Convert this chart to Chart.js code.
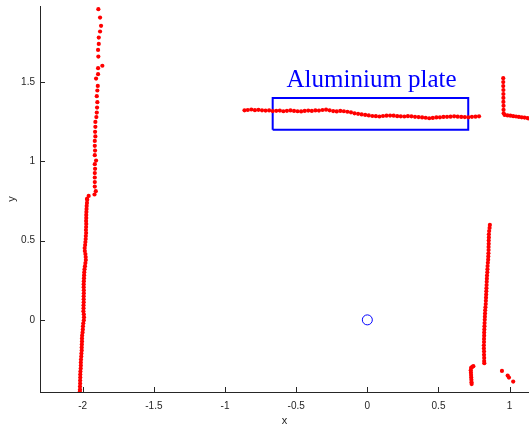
<!DOCTYPE html>
<html lang="en">
<head>
  <meta charset="UTF-8">
  <title>Aluminium plate scan</title>
  <script src="https://cdn.jsdelivr.net/npm/chart.js"></script>
  <style>
    html, body { margin: 0; padding: 0; background: #fff; }
    #wrap { width: 529px; height: 426px; }
  </style>
</head>
<body>
  <div id="wrap"><canvas id="scan"></canvas></div>
  <script>
    // scan points [x, y] per segment
    const leftWallUpper = [[-1.890,1.960],[-1.878,1.907],[-1.871,1.855],[-1.878,1.819],[-1.887,1.781],[-1.887,1.741],[-1.892,1.703],[-1.890,1.661],[-1.862,1.603],[-1.892,1.588],[-1.892,1.550],[-1.906,1.522],[-1.894,1.476],[-1.897,1.447],[-1.901,1.411],[-1.897,1.373],[-1.899,1.339],[-1.901,1.308],[-1.904,1.279],[-1.911,1.249],[-1.911,1.218],[-1.913,1.186],[-1.911,1.157],[-1.915,1.129],[-1.915,1.098],[-1.913,1.068],[-1.915,1.039],[-1.906,1.005],[-1.915,0.982],[-1.913,0.953],[-1.915,0.926],[-1.915,0.898],[-1.915,0.869],[-1.915,0.841],[-1.908,0.812],[-1.917,0.791],[-1.958,0.782],[-1.970,0.763]];
    const leftWallLower = [[-1.968,0.757],[-1.970,0.738],[-1.972,0.719],[-1.973,0.700],[-1.974,0.681],[-1.975,0.662],[-1.975,0.643],[-1.976,0.624],[-1.975,0.605],[-1.976,0.586],[-1.977,0.567],[-1.976,0.548],[-1.978,0.529],[-1.979,0.510],[-1.981,0.491],[-1.983,0.472],[-1.986,0.453],[-1.985,0.434],[-1.981,0.415],[-1.979,0.396],[-1.978,0.377],[-1.981,0.358],[-1.984,0.339],[-1.987,0.320],[-1.989,0.301],[-1.990,0.282],[-1.991,0.263],[-1.992,0.244],[-1.993,0.225],[-1.993,0.206],[-1.992,0.187],[-1.992,0.168],[-1.993,0.149],[-1.993,0.130],[-1.993,0.111],[-1.994,0.092],[-1.994,0.073],[-1.995,0.054],[-1.992,0.035],[-1.991,0.016],[-1.992,-0.003],[-1.996,-0.022],[-1.998,-0.041],[-1.999,-0.060],[-2.001,-0.079],[-2.004,-0.098],[-2.005,-0.117],[-2.005,-0.136],[-2.006,-0.155],[-2.007,-0.174],[-2.007,-0.193],[-2.009,-0.212],[-2.010,-0.231],[-2.012,-0.250],[-2.013,-0.269],[-2.013,-0.288],[-2.014,-0.307],[-2.016,-0.326],[-2.017,-0.345],[-2.017,-0.364],[-2.018,-0.383],[-2.018,-0.402],[-2.019,-0.421],[-2.019,-0.440],[-2.020,-0.452]];
    const plate = [[-0.863,1.322],[-0.840,1.324],[-0.815,1.327],[-0.790,1.323],[-0.765,1.325],[-0.740,1.322],[-0.715,1.320],[-0.690,1.321],[-0.665,1.317],[-0.640,1.319],[-0.615,1.320],[-0.590,1.316],[-0.565,1.319],[-0.540,1.321],[-0.515,1.318],[-0.490,1.316],[-0.465,1.315],[-0.440,1.318],[-0.415,1.320],[-0.390,1.318],[-0.365,1.321],[-0.340,1.320],[-0.315,1.324],[-0.290,1.326],[-0.265,1.322],[-0.240,1.317],[-0.215,1.315],[-0.190,1.318],[-0.165,1.316],[-0.140,1.313],[-0.115,1.309],[-0.090,1.303],[-0.065,1.300],[-0.040,1.296],[-0.015,1.293],[0.010,1.290],[0.035,1.286],[0.060,1.285],[0.085,1.283],[0.110,1.286],[0.135,1.288],[0.160,1.289],[0.185,1.288],[0.210,1.285],[0.235,1.284],[0.260,1.283],[0.285,1.285],[0.310,1.284],[0.335,1.281],[0.360,1.279],[0.385,1.277],[0.410,1.275],[0.435,1.272],[0.460,1.274],[0.485,1.277],[0.510,1.278],[0.535,1.280],[0.560,1.281],[0.585,1.282],[0.610,1.284],[0.635,1.282],[0.660,1.280],[0.685,1.279],[0.710,1.278],[0.735,1.281],[0.760,1.282],[0.785,1.284]];
    const cornerRight = [[0.955,1.525],[0.955,1.500],[0.955,1.475],[0.956,1.450],[0.956,1.425],[0.956,1.400],[0.956,1.375],[0.957,1.350],[0.957,1.325],[0.958,1.303],[0.965,1.293],[0.985,1.290],[1.005,1.288],[1.025,1.285],[1.045,1.283],[1.065,1.280],[1.085,1.278],[1.105,1.276],[1.125,1.273],[1.140,1.270]];
    const rightWall = [[0.861,0.599],[0.859,0.580],[0.856,0.560],[0.854,0.540],[0.854,0.520],[0.853,0.500],[0.853,0.480],[0.852,0.460],[0.852,0.440],[0.851,0.420],[0.850,0.400],[0.849,0.380],[0.847,0.360],[0.845,0.340],[0.844,0.320],[0.843,0.300],[0.841,0.280],[0.840,0.260],[0.839,0.240],[0.838,0.220],[0.837,0.200],[0.836,0.180],[0.835,0.160],[0.834,0.140],[0.833,0.120],[0.832,0.100],[0.830,0.080],[0.828,0.060],[0.827,0.040],[0.826,0.020],[0.825,0.000],[0.824,-0.020],[0.823,-0.040],[0.822,-0.060],[0.821,-0.080],[0.821,-0.100],[0.820,-0.120],[0.820,-0.140],[0.819,-0.160],[0.819,-0.180],[0.820,-0.200],[0.820,-0.220],[0.821,-0.240],[0.821,-0.260],[0.822,-0.273]];
    const cornerLow = [[0.745,-0.292],[0.737,-0.297],[0.729,-0.303],[0.727,-0.318],[0.728,-0.333],[0.729,-0.348],[0.730,-0.363],[0.731,-0.378],[0.732,-0.393],[0.733,-0.405]];
    const strays = [[0.946,-0.322],[0.986,-0.351],[0.995,-0.364],[1.025,-0.389]];

    const sensor = [0, 0];
    const boxX = [-0.665, 0.709];
    const boxY = [1.2, 1.4];
    const labelText = 'Aluminium plate';
    const labelAt = [0.03, 1.47];

    const xTicks = [-2, -1.5, -1, -0.5, 0, 0.5, 1];
    const yTicks = [0, 0.5, 1, 1.5];

    const toPts = arr => arr.map(p => ({x: p[0], y: p[1]}));
    const allScan = [].concat(leftWallUpper, leftWallLower, plate, cornerRight, rightWall, cornerLow, strays);
    const boxPts = [
      {x: boxX[0], y: boxY[0]}, {x: boxX[1], y: boxY[0]},
      {x: boxX[1], y: boxY[1]}, {x: boxX[0], y: boxY[1]},
      {x: boxX[0], y: boxY[0]}
    ];

    const axisColor = '#262626';
    const sans = '"Liberation Sans", Arial, sans-serif';

    // inward tick marks + the plate label
    const extras = {
      id: 'extras',
      afterDraw(chart) {
        const ctx = chart.ctx;
        const xs = chart.scales.x, ys = chart.scales.y;
        const area = chart.chartArea;
        ctx.save();
        ctx.strokeStyle = axisColor;
        ctx.lineWidth = 1;
        ctx.beginPath();
        xTicks.forEach(v => {
          const px = Math.round(xs.getPixelForValue(v)) + 0.5;
          ctx.moveTo(px, area.bottom);
          ctx.lineTo(px, area.bottom - 5);
        });
        yTicks.forEach(v => {
          const py = Math.round(ys.getPixelForValue(v)) + 0.5;
          ctx.moveTo(area.left, py);
          ctx.lineTo(area.left + 5, py);
        });
        ctx.stroke();
        ctx.fillStyle = '#0000ff';
        ctx.font = '25px "Liberation Serif", "Times New Roman", serif';
        ctx.textAlign = 'center';
        ctx.textBaseline = 'alphabetic';
        ctx.fillText(labelText, xs.getPixelForValue(labelAt[0]), ys.getPixelForValue(labelAt[1]));
        ctx.restore();
      }
    };

    new Chart(document.getElementById('scan'), {
      type: 'scatter',
      data: {
        datasets: [
          {
            data: toPts(allScan),
            pointRadius: 2.1,
            pointBorderWidth: 0,
            backgroundColor: '#ff0000',
            borderColor: '#ff0000',
            order: 0
          },
          {
            data: boxPts,
            showLine: true,
            borderColor: '#0000ff',
            borderWidth: 2,
            pointRadius: 0,
            order: 1
          },
          {
            data: [{x: sensor[0], y: sensor[1]}],
            pointRadius: 5,
            borderWidth: 1,
            borderColor: '#0000ff',
            backgroundColor: 'rgba(0,0,0,0)',
            order: 2
          }
        ]
      },
      options: {
        responsive: true,
        maintainAspectRatio: false,
        animation: false,
        layout: { autoPadding: false, padding: { top: 6, right: 0, left: 0, bottom: 0 } },
        plugins: { legend: { display: false }, tooltip: { enabled: false } },
        scales: {
          x: {
            type: 'linear',
            min: -2.3,
            max: 1.136,
            afterBuildTicks: s => { s.ticks = xTicks.map(v => ({value: v})); },
            afterFit: s => { s.height = 34; s.paddingLeft = 0; s.paddingRight = 0; },
            grid: { drawOnChartArea: false, drawTicks: false },
            border: { display: true, color: axisColor, width: 1 },
            ticks: { padding: 8, color: axisColor, font: { family: sans, size: 10 }, callback: v => String(v) },
            title: { display: true, text: 'x', color: axisColor, padding: 0, font: { family: sans, size: 11, lineHeight: 0.9 } }
          },
          y: {
            type: 'linear',
            min: -0.455,
            max: 1.98,
            afterBuildTicks: s => { s.ticks = yTicks.map(v => ({value: v})); },
            afterFit: s => { s.width = 40; s.paddingTop = 0; s.paddingBottom = 0; },
            grid: { drawOnChartArea: false, drawTicks: false },
            border: { display: true, color: axisColor, width: 1 },
            ticks: { padding: 5, color: axisColor, font: { family: sans, size: 10 }, callback: v => String(v) },
            title: { display: true, text: 'y', color: axisColor, padding: 5, font: { family: sans, size: 11 } }
          }
        }
      },
      plugins: [extras]
    });
  </script>
</body>
</html>
